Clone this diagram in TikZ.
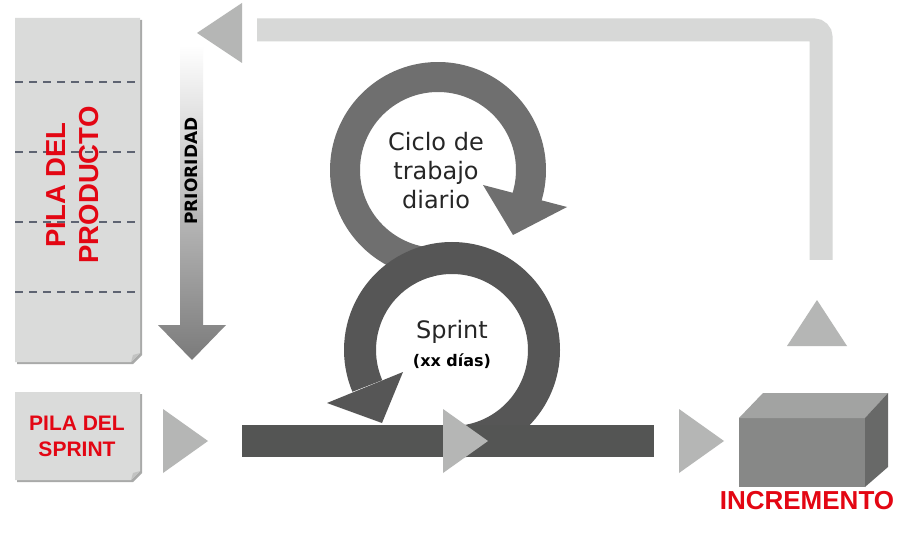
\documentclass[tikz,border=0pt]{standalone}
\usepackage{fontspec}
\setmainfont{Liberation Sans}
\newfontfamily\dejavu{DejaVu Sans}
\definecolor{caja}{HTML}{DADBDA}
\definecolor{sombra}{HTML}{A9AAA9}
\definecolor{doblez}{HTML}{C2C3C2}
\definecolor{guion}{HTML}{5E6472}
\definecolor{rojo}{HTML}{E30613}
\definecolor{claro}{HTML}{D7D8D7}
\definecolor{punta}{HTML}{B5B6B5}
\definecolor{aroclaro}{HTML}{6F6F6F}
\definecolor{aroosc}{HTML}{565656}
\definecolor{barra}{HTML}{545554}
\definecolor{frente}{HTML}{878887}
\definecolor{tapa}{HTML}{A2A3A2}
\definecolor{lado}{HTML}{686968}
\tikzset{
	rotulo/.style={text=rojo, align=center, inner sep=0pt},
	separador/.style={draw=guion, line width=1.6pt, dash pattern=on 8pt off 6pt},
	triangulo/.style={fill=punta},
	texto/.style={inner sep=0pt, align=center, text=black!85}
}
\begin{document}
\begin{tikzpicture}[x=1pt,y=-1pt]
\fill[white] (0,0) rectangle (924,556);
\useasboundingbox (0,0) rectangle (924,556);

\coordinate (retorno-ini) at (821,260);
\coordinate (retorno-fin) at (257,30);
\draw[claro, line width=23pt, rounded corners=7pt] (retorno-ini) -- (821,30) -- (retorno-fin);
\fill[punta] (242,3) -- (197,33) -- (242,63) -- cycle;
\fill[punta] (787,346) -- (817,300) -- (847,346) -- cycle;

\foreach \xa/\ya/\xb/\yb in {15/18/140/362, 15/392/140/480}
{
	\fill[sombra] (\xa+2,\ya+2) -- (\xb+2,\ya+2) -- (\xb+2,\yb-7) -- (\xb-7,\yb+2) -- (\xa+2,\yb+2) -- cycle;
	\fill[caja] (\xa,\ya) -- (\xb,\ya) -- (\xb,\yb-9) -- (\xb-9,\yb) -- (\xa,\yb) -- cycle;
	\fill[doblez] (\xb,\yb-9) -- (\xb-9,\yb) -- (\xb-7,\yb-7) -- cycle;
}
\foreach \y in {82,152,222,292}
	\draw[separador] (15,\y) -- (140,\y);

\shade[top color=white, bottom color=black!52] (180,45) -- (203,45) -- (203,325) -- (226,325) -- (192,360) -- (158,325) -- (180,325) -- cycle;

\draw[aroclaro, line width=30pt] (438,170) ++(-268:93) arc[start angle=-268, end angle=18, radius=93];
\fill[aroclaro] (483,185) -- (567,207) -- (513,235) -- cycle;
\fill[white] (452,350) circle[radius=76];
\draw[aroosc, line width=32pt] (452,350) ++(90:92) arc[start angle=90, end angle=-203, radius=92];
\fill[aroosc] (327,403) -- (403,372) -- (382,423) -- cycle;

\fill[barra] (242,425) rectangle (654,457);
\foreach \x in {163,443,679}
	\fill[triangulo] (\x,409) -- (\x+45,441) -- (\x,473) -- cycle;

\fill[frente] (739,418) rectangle (865,487);
\fill[tapa] (739,418) -- (763,393) -- (888,393) -- (865,418) -- cycle;
\fill[lado] (865,418) -- (888,393) -- (888,467) -- (865,487) -- cycle;

\node[rotulo, rotate=90, font=\bfseries\fontsize{27.5}{33}\selectfont] (pilaprod) at (73,185) {PILA DEL\\PRODUCTO};
\node[texto, rotate=90, text=black, font=\dejavu\bfseries\fontsize{17}{17}\selectfont] (prioridad) at (191.5,171) {PRIORIDAD};
\node[rotulo, font=\bfseries\fontsize{21}{26}\selectfont] (pilasprint) at (77,436) {PILA DEL\\SPRINT};
\node[texto, font=\dejavu\fontsize{24}{29}\selectfont] (ciclo) at (436,171) {Ciclo de\\trabajo\\diario};
\node[texto, font=\dejavu\fontsize{24}{24}\selectfont] (sprint) at (452,332) {Sprint};
\node[texto, text=black, font=\dejavu\bfseries\fontsize{16}{16}\selectfont] (duracion) at (452,361) {(xx días)};
\node[rotulo, font=\bfseries\fontsize{26}{26}\selectfont] (incremento) at (807,501) {INCREMENTO};
\end{tikzpicture}
\end{document}
